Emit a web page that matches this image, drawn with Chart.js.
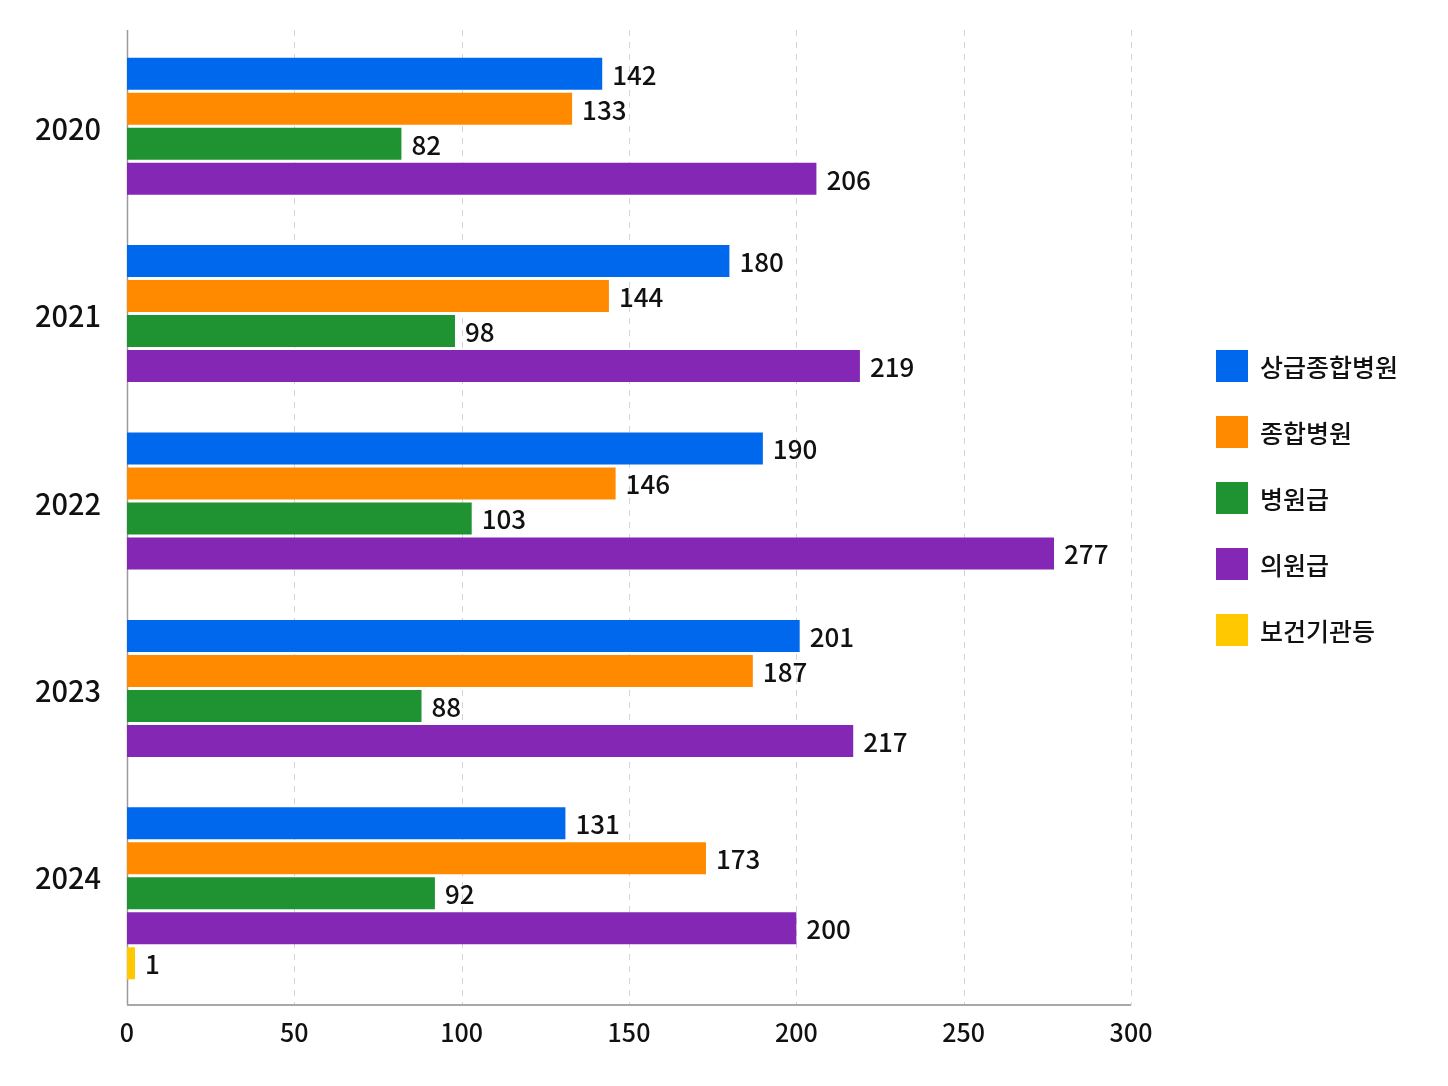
<!DOCTYPE html>
<html lang="ko">
<head>
<meta charset="utf-8">
<script src="https://cdn.jsdelivr.net/npm/chart.js@4/dist/chart.umd.min.js"></script>
<style>
  html, body { margin: 0; padding: 0; background: #fff; }
  #wrap { position: relative; width: 1448px; height: 1086px; }
  #legend { position: absolute; left: 1216px; top: 350px; font-family: "Noto Sans CJK KR", sans-serif; }
  .item { display: flex; align-items: center; height: 32px; margin-bottom: 34px; }
  .box { width: 32px; height: 32px; }
  .txt { margin-left: 12px; font-size: 25px; font-weight: 500; color: #111; line-height: 32px; }
</style>
</head>
<body>
<div id="wrap">
  <canvas id="c" width="1448" height="1086"></canvas>
  <div id="legend"></div>
</div>
<script>
const years = ['2020', '2021', '2022', '2023', '2024'];
const seriesNames = ['상급종합병원', '종합병원', '병원급', '의원급', '보건기관등'];
const tertiary = [142, 180, 190, 201, 131];
const general = [133, 144, 146, 187, 173];
const hospital = [82, 98, 103, 88, 92];
const clinic = [206, 219, 277, 217, 200];
const publicHealth = [null, null, null, null, 1];
const xTickValues = [0, 50, 100, 150, 200, 250, 300];
const colors = ['#0068EC', '#FF8A00', '#1F9232', '#8427B4', '#FFC800'];

const FONT = '"Noto Sans CJK KR", sans-serif';
const seriesValues = [tertiary, general, hospital, clinic, publicHealth];

const datasets = seriesValues.map((vals, i) => ({
  label: seriesNames[i],
  data: vals,
  backgroundColor: colors[i],
  borderWidth: 0,
  categoryPercentage: 0.934,
  barPercentage: 0.914,
  minBarLength: i === 4 ? 8 : 0
}));

const axesPlugin = {
  id: 'axesExt',
  beforeDatasetsDraw(chart) {
    const { ctx, chartArea: a, scales: { x } } = chart;
    const top = a.top - 20, bottom = a.bottom + 18;
    ctx.save();
    x.ticks.forEach(t => {
      const px = Math.round(x.getPixelForValue(t.value)) + 0.5;
      ctx.beginPath();
      if (t.value === 0) {
        ctx.setLineDash([]);
        ctx.strokeStyle = '#9a9a9a';
        ctx.lineWidth = 1.5;
      } else {
        ctx.setLineDash([6, 6]);
        ctx.strokeStyle = '#d4d4d4';
        ctx.lineWidth = 1;
      }
      ctx.moveTo(px, top);
      ctx.lineTo(px, bottom);
      ctx.stroke();
    });
    ctx.setLineDash([]);
    ctx.strokeStyle = '#a8a8a8';
    ctx.lineWidth = 2;
    ctx.beginPath();
    ctx.moveTo(a.left, bottom);
    ctx.lineTo(a.right, bottom);
    ctx.stroke();
    ctx.restore();
  }
};

const valueLabels = {
  id: 'valueLabels',
  afterDatasetsDraw(chart) {
    const { ctx } = chart;
    ctx.save();
    ctx.font = '500 26px ' + FONT;
    ctx.fillStyle = '#111';
    ctx.textAlign = 'left';
    ctx.textBaseline = 'middle';
    chart.data.datasets.forEach((ds, di) => {
      const meta = chart.getDatasetMeta(di);
      meta.data.forEach((el, i) => {
        const v = ds.data[i];
        if (v === null || v === undefined) return;
        ctx.fillText(String(v), el.x + 10, el.y + 1);
      });
    });
    ctx.restore();
  }
};

new Chart(document.getElementById('c'), {
  type: 'bar',
  data: { labels: years, datasets },
  options: {
    indexAxis: 'y',
    responsive: false,
    animation: false,
    devicePixelRatio: 1,
    layout: { padding: { top: 50, bottom: 39, left: 0, right: 317 } },
    plugins: { legend: { display: false }, tooltip: { enabled: false } },
    scales: {
      x: {
        type: 'linear',
        min: 0,
        max: 300,
        afterBuildTicks(s) { s.ticks = xTickValues.map(v => ({ value: v })); },
        ticks: { font: { family: FONT, size: 25, weight: '500' }, color: '#111', padding: 30 },
        grid: { display: false, drawTicks: false },
        border: { display: false },
        afterFit(s) { s.height = 60; }
      },
      y: {
        type: 'category',
        ticks: { font: { family: FONT, size: 29, weight: '500' }, color: '#111', padding: 26, labelOffset: -15 },
        grid: { display: false, drawTicks: false },
        border: { display: false },
        afterFit(s) { s.width = 127; }
      }
    }
  },
  plugins: [axesPlugin, valueLabels]
});

const legend = document.getElementById('legend');
seriesNames.forEach((name, i) => {
  const row = document.createElement('div');
  row.className = 'item';
  const box = document.createElement('div');
  box.className = 'box';
  box.style.background = colors[i];
  const txt = document.createElement('span');
  txt.className = 'txt';
  txt.textContent = name;
  row.appendChild(box);
  row.appendChild(txt);
  legend.appendChild(row);
});
</script>
</body>
</html>
